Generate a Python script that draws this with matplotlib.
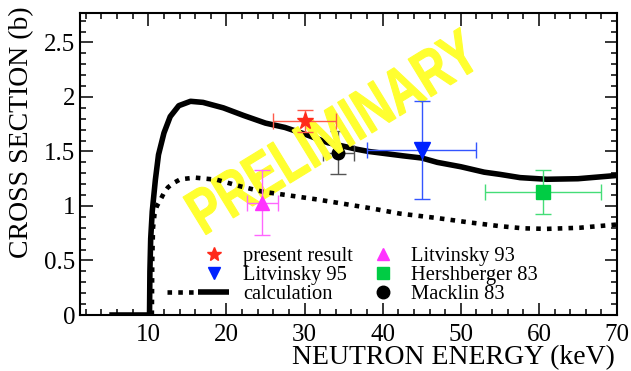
import numpy as np
import matplotlib
matplotlib.use("Agg")
import matplotlib.pyplot as plt
from matplotlib.lines import Line2D
from matplotlib.legend_handler import HandlerLine2DCompound, HandlerTuple
from matplotlib.textpath import TextPath
from matplotlib.patches import PathPatch
from matplotlib.font_manager import FontProperties
import matplotlib.transforms as mtransforms

# ---------------- data ----------------
calc_solid_x = [5.0, 10.15, 10.2, 10.3, 10.5, 10.9, 11.3, 12.0, 12.8, 13.9, 15.4, 17.0,
                19.6, 22.2, 25.0, 27.5, 30.0, 33.0, 36.7, 38.2, 42.6, 45.0, 47.0, 50.0,
                53.0, 55.0, 57.6, 61.0, 65.0, 70.0]
calc_solid_y = [0.0, 0.0, 0.40, 0.70, 0.95, 1.24, 1.47, 1.67, 1.82, 1.92, 1.96, 1.95,
                1.90, 1.83, 1.76, 1.72, 1.66, 1.58, 1.52, 1.50, 1.46, 1.44, 1.40, 1.36,
                1.31, 1.29, 1.26, 1.245, 1.25, 1.28]

calc_dot_x = [10.45, 10.5, 10.6, 10.8, 11.1, 11.5, 12.0, 12.5, 13.2, 14.1, 16.0, 18.8,
              21.8, 24.7, 27.7, 31.6, 35.0, 38.4, 42.2, 46.9, 51.0, 55.0, 58.0, 61.0,
              65.2, 70.0]
calc_dot_y = [0.0, 0.50, 0.80, 0.93, 1.00, 1.05, 1.12, 1.17, 1.21, 1.245, 1.26, 1.24,
              1.18, 1.13, 1.10, 1.06, 1.02, 0.98, 0.93, 0.89, 0.85, 0.815, 0.795, 0.79,
              0.80, 0.83]

present_x, present_y, present_xerr, present_yerr = [30.0], [1.78], [4.0], [0.10]
litv95_x, litv95_y, litv95_xerr, litv95_yerr = [45.0], [1.51], [7.0], [0.45]
litv93_x, litv93_y, litv93_xerr, litv93_yerr = [24.6], [1.03], [2.0], [0.30]
hersh_x, hersh_y, hersh_xerr, hersh_yerr = [60.5], [1.13], [7.4], [0.20]
mack_x, mack_y, mack_xerr, mack_yerr = [34.3], [1.49], [2.0], [0.20]

x_ticks = [10, 20, 30, 40, 50, 60, 70]
y_ticks = [0, 0.5, 1, 1.5, 2, 2.5]
y_ticklabels = ["0", "0.5", "1", "1.5", "2", "2.5"]

# ---------------- figure ----------------
plt.rcParams['font.family'] = ['Liberation Serif', 'DejaVu Serif']

W, H = 631, 371
fig = plt.figure(figsize=(W / 100, H / 100), dpi=100)
ax = fig.add_axes([80 / W, (H - 315) / H, (617 - 80) / W, (315 - 13) / H])

ax.set_xlim(1.25, 70)
ax.set_ylim(0, 2.77)

# calculation curves
ax.plot(calc_solid_x, calc_solid_y, color='black', lw=4.0, solid_joinstyle='round',
        solid_capstyle='butt', zorder=2)
ax.plot(calc_dot_x, calc_dot_y, color='black', lw=3.3, linestyle=(0, (1.0, 1.35)),
        dash_capstyle='butt', zorder=4)

# data points
ebkw = dict(elinewidth=1.0, capsize=5.5, capthick=1.0, linestyle='none')
ax.errorbar(mack_x, mack_y, xerr=mack_xerr, yerr=mack_yerr, fmt='o', color='black',
            ecolor='#555555', markersize=9, zorder=2, **ebkw)
ax.errorbar(present_x, present_y, xerr=present_xerr, yerr=present_yerr, fmt='*',
            color='#ff2a1a', ecolor='#ff5a4a', markersize=12.5, zorder=5, **ebkw)
ax.errorbar(litv95_x, litv95_y, xerr=litv95_xerr, yerr=litv95_yerr, fmt='v',
            color='#0022ff', ecolor='#3355ff', markersize=11, zorder=5, **ebkw)
ax.errorbar(litv93_x, litv93_y, xerr=litv93_xerr, yerr=litv93_yerr, fmt='^',
            color='#ff33ff', ecolor='#ff66ff', markersize=10.5, zorder=5, **ebkw)
ax.errorbar(hersh_x, hersh_y, xerr=hersh_xerr, yerr=hersh_yerr, fmt='s',
            color='#00cc44', ecolor='#44dd77', markersize=10, zorder=5, **ebkw)

# ---------------- PRELIMINARY watermark ----------------
tp = TextPath((0, 0), "PRELIMINARY", size=1,
              prop=FontProperties(family='Liberation Sans', weight='bold'))
ext = tp.get_extents()
cx, cy = (ext.x0 + ext.x1) / 2, (ext.y0 + ext.y1) / 2
ang = np.deg2rad(31.5)
s1, s2 = 48.0, 64.0
m00, m01 = s1 * np.cos(ang), -s2 * np.sin(ang)
m10, m11 = s1 * np.sin(ang), s2 * np.cos(ang)
tx_c, ty_c = 333.0, H - 131.0
tx = tx_c - (m00 * cx + m01 * cy)
ty = ty_c - (m10 * cx + m11 * cy)
tr = mtransforms.Affine2D(np.array([[m00, m01, tx], [m10, m11, ty], [0, 0, 1]]))
patch = PathPatch(tp, facecolor='#ffff30', edgecolor='#ffff30', linewidth=0.8,
                  transform=tr, zorder=3, clip_on=False)
ax.add_artist(patch)

# ---------------- axes styling ----------------
ax.set_xticks(x_ticks)
ax.set_yticks(y_ticks)
ax.set_yticklabels(y_ticklabels)
ax.set_xticks(np.arange(2, 70, 2), minor=True)
ax.set_yticks(np.arange(0, 2.77, 0.1), minor=True)
ax.tick_params(which='both', direction='in', top=True, right=True, width=1.1,
               labelsize=18, colors='black')
ax.tick_params(which='major', length=9)
ax.tick_params(which='minor', length=4.5)
ax.tick_params(axis='x', pad=6.5)
ax.tick_params(axis='y', pad=3.5)
for sp in ax.spines.values():
    sp.set_linewidth(1.5)

ax.set_xlabel("NEUTRON ENERGY (keV)", fontsize=20, va='center', ha='center')
ax.xaxis.set_label_coords((453.5 - 80) / 537, (315 - 358) / 302)
ax.set_ylabel("CROSS SECTION (b)", fontsize=20, va='center', ha='center')
ax.yaxis.set_label_coords((22 - 80) / 537, (315 - 132) / 302)


# ---------------- legends ----------------
class HandlerRightMarker(HandlerLine2DCompound):
    def get_xdata(self, legend, xdescent, ydescent, width, height, fontsize):
        xdata = np.array([-xdescent, -xdescent + width])
        xm = np.array([-xdescent + 0.755 * width])
        return xdata, xm


h_present = Line2D([], [], marker='*', color='#ff2a1a', linestyle='none', markersize=10)
h_l95 = Line2D([], [], marker='v', color='#0022ff', linestyle='none', markersize=8)
h_dot = Line2D([], [], color='black', lw=3.3, linestyle=(0, (1.0, 1.35)), dash_capstyle='butt')
h_sol = Line2D([], [], color='black', lw=4.0, solid_capstyle='butt')

legfs = 14.8
top_y = (315 - 247) / 302
leg1 = ax.legend([h_present, h_l95, (h_dot, h_sol)],
                 ["present result", "Litvinsky 95", "calculation"],
                 handler_map={h_present: HandlerRightMarker(),
                              h_l95: HandlerRightMarker(),
                              tuple: HandlerTuple(ndivide=None, pad=0)},
                 loc='upper left', bbox_to_anchor=((167 - 80) / 537, top_y),
                 frameon=False, fontsize=legfs, handlelength=3.0, handletextpad=0.7,
                 labelspacing=-0.03, borderpad=0, borderaxespad=0)
ax.add_artist(leg1)

h_l93 = Line2D([], [], marker='^', color='#ff33ff', linestyle='none', markersize=9)
h_her = Line2D([], [], marker='s', color='#00cc44', linestyle='none', markersize=8.5)
h_mac = Line2D([], [], marker='o', color='black', linestyle='none', markersize=9)
leg2 = ax.legend([h_l93, h_her, h_mac], ["Litvinsky 93", "Hershberger 83", "Macklin 83"],
                 loc='upper left', bbox_to_anchor=((373 - 80) / 537, top_y),
                 frameon=False, fontsize=legfs, handlelength=1.0, handletextpad=0.85,
                 labelspacing=-0.03, borderpad=0, borderaxespad=0)

fig.savefig("out.png", dpi=100)
